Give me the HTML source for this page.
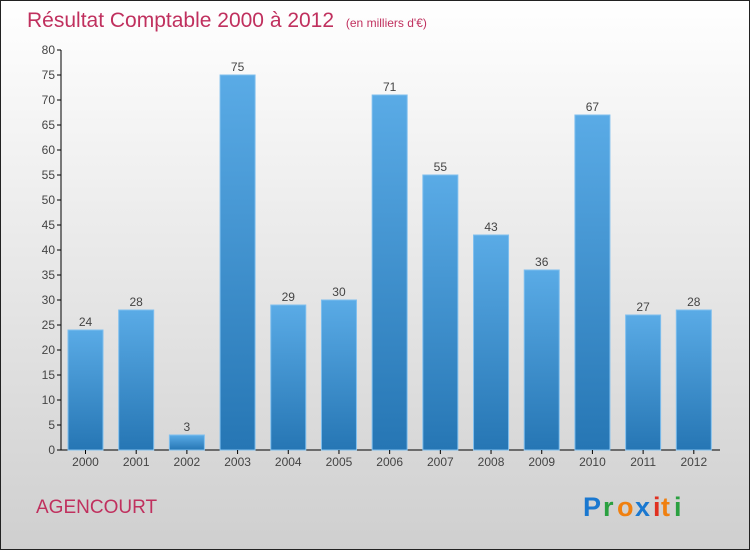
<!DOCTYPE html>
<html><head><meta charset="utf-8"><style>
body{margin:0;width:750px;height:550px;overflow:hidden;font-family:"Liberation Sans",sans-serif}
</style></head><body>
<svg id="c" width="750" height="550" xmlns="http://www.w3.org/2000/svg">
<defs>
<linearGradient id="bg" x1="0" y1="0" x2="0" y2="1"><stop offset="0" stop-color="#ffffff"/><stop offset="1" stop-color="#cfcfcf"/></linearGradient>
<linearGradient id="bar" x1="0" y1="0" x2="0" y2="1"><stop offset="0" stop-color="#5aabe6"/><stop offset="1" stop-color="#2676b4"/></linearGradient>
</defs>
<rect x="0.5" y="0.5" width="749" height="549" fill="url(#bg)" stroke="#222"/>
<text x="27" y="27" font-size="21" fill="#c0305e">Résultat Comptable 2000 à 2012 <tspan font-size="12" dx="6">(en milliers d'€)</tspan></text>
<text x="36" y="513" font-size="19" fill="#c0305e">AGENCOURT</text>
<g font-size="27" font-weight="bold" font-family="'Liberation Sans',sans-serif">
<text x="583" y="516" fill="#1a78d0">P</text><text x="603" y="516" fill="#2aa040">r</text><text x="617" y="516" fill="#f08010">o</text><text x="635" y="516" fill="#1a78d0">x</text><text x="653" y="516" fill="#e03020">i</text><text x="661" y="516" fill="#f08010">t</text><text x="674" y="516" fill="#2aa040">i</text>
</g>
<g id="plot"></g>
</svg>
<script>
const categories=["2000","2001","2002","2003","2004","2005","2006","2007","2008","2009","2010","2011","2012"];
const values=[24,28,3,75,29,30,71,55,43,36,67,27,28];
const yTicks=[0,5,10,15,20,25,30,35,40,45,50,55,60,65,70,75,80];
const NS="http://www.w3.org/2000/svg";
const x0=61,x1=720,y0=450,yTop=50,yMax=80;
const band=(x1-x0)/categories.length;
const y=v=>y0-(v/yMax)*(y0-yTop);
const bx=i=>x0+i*band+7;
const g=document.getElementById('plot');
function mk(t,a,txt){const e=document.createElementNS(NS,t);for(const k in a)e.setAttribute(k,a[k]);if(txt!=null)e.textContent=txt;g.appendChild(e);return e;}
let e=mk('line',{x1:x0,y1:yTop,x2:x0,y2:y0,stroke:'#000'});


e=mk('line',{x1:x0,y1:y0,x2:x1,y2:y0,stroke:'#000'});


yTicks.forEach(t=>{
 e=mk('line',{x1:x0-4,y1:y(t),x2:x0,y2:y(t),stroke:'#000'});
 
 
 e=mk('text',{x:x0-6,y:y(t)+4,'font-size':12,fill:'#444','text-anchor':'end'},t);
 
 
});
categories.forEach((c,i)=>{
 const v=values[i];
 e=mk('rect',{x:bx(i),y:y(v),width:35,height:y0-y(v),fill:'url(#bar)',stroke:'#7fbfee','stroke-width':1});
 
 
 e=mk('text',{x:bx(i)+17.5,y:y(v)-4,'font-size':12,fill:'#444','text-anchor':'middle'},v);
 
 
 e=mk('line',{x1:bx(i)+17.5,y1:y0,x2:bx(i)+17.5,y2:y0+4,stroke:'#000'});
 
 
 e=mk('text',{x:bx(i)+17.5,y:y0+16,'font-size':12,fill:'#444','text-anchor':'middle'},c);
 
 
});
</script>
</body></html>
